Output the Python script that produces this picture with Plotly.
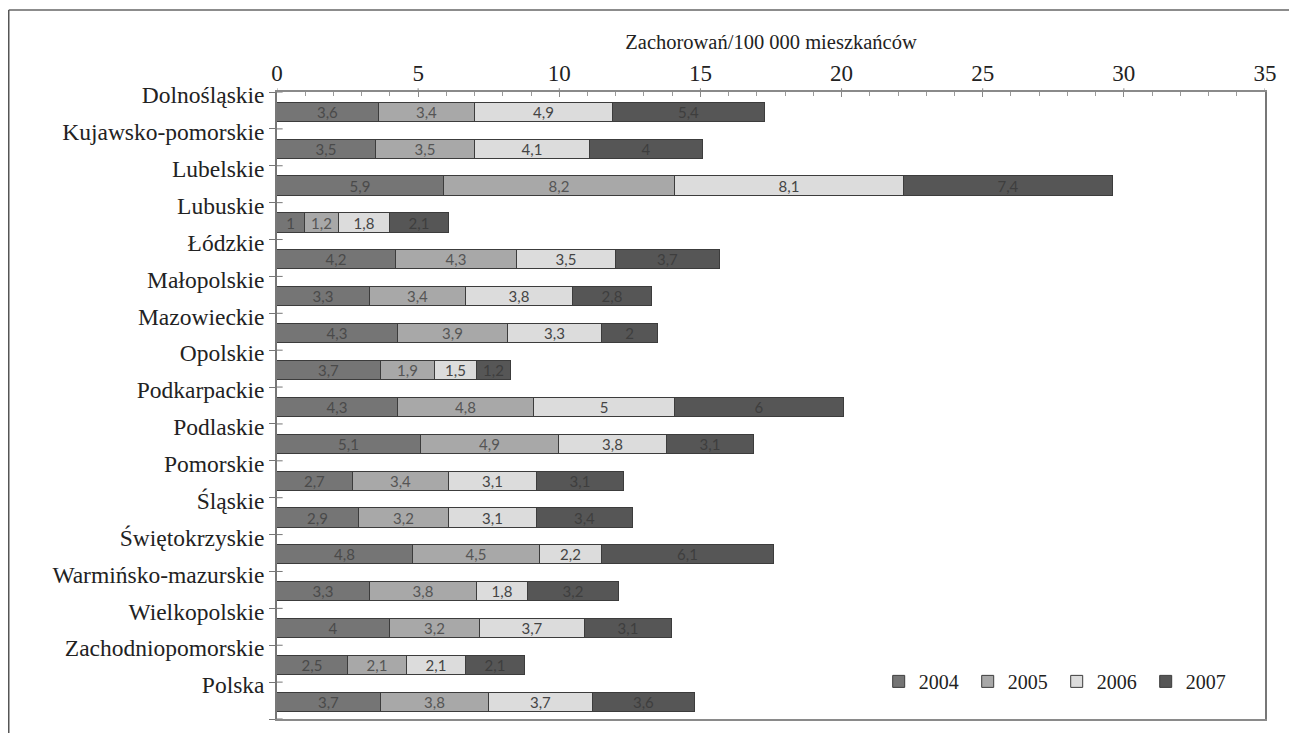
import plotly.graph_objects as go

# Zachorowania na 100 000 mieszkańców według województw, lata 2004-2007
regions = [
    "Dolnośląskie", "Kujawsko-pomorskie", "Lubelskie", "Lubuskie", "Łódzkie",
    "Małopolskie", "Mazowieckie", "Opolskie", "Podkarpackie", "Podlaskie",
    "Pomorskie", "Śląskie", "Świętokrzyskie", "Warmińsko-mazurskie",
    "Wielkopolskie", "Zachodniopomorskie", "Polska",
]
years = ["2004", "2005", "2006", "2007"]
v2004 = [3.6, 3.5, 5.9, 1.0, 4.2, 3.3, 4.3, 3.7, 4.3, 5.1, 2.7, 2.9, 4.8, 3.3, 4.0, 2.5, 3.7]
v2005 = [3.4, 3.5, 8.2, 1.2, 4.3, 3.4, 3.9, 1.9, 4.8, 4.9, 3.4, 3.2, 4.5, 3.8, 3.2, 2.1, 3.8]
v2006 = [4.9, 4.1, 8.1, 1.8, 3.5, 3.8, 3.3, 1.5, 5.0, 3.8, 3.1, 3.1, 2.2, 1.8, 3.7, 2.1, 3.7]
v2007 = [5.4, 4.0, 7.4, 2.1, 3.7, 2.8, 2.0, 1.2, 6.0, 3.1, 3.1, 3.4, 6.1, 3.2, 3.1, 2.1, 3.6]
x_ticks = [0, 5, 10, 15, 20, 25, 30, 35]

series = [v2004, v2005, v2006, v2007]
colors = ["#757575", "#a8a8a8", "#dcdcdc", "#565656"]
text_colors = ["#4a4a4a", "#555555", "#444444", "#3e3e3e"]

# each region occupies one band; the bar sits in the middle of its band
band_pos = [i + 0.55 for i in range(len(regions))]

serif = "Liberation Serif, Times New Roman, serif"

fig = go.Figure()
for name, vals, col, tcol in zip(years, series, colors, text_colors):
    fig.add_trace(go.Bar(
        name=name,
        x=vals,
        y=band_pos,
        orientation="h",
        width=0.52,
        marker=dict(color=col, line=dict(color="#3c3c3c", width=1)),
        texttemplate="%{x:~g}",
        textposition="inside",
        insidetextanchor="middle",
        textangle=0,
        constraintext="none",
        textfont=dict(family="Lato, Open Sans, sans-serif", size=15, color=tcol),
        hoverinfo="skip",
    ))

# inner half of the crossing tick marks on the category axis
for i in range(len(regions) + 1):
    fig.add_shape(type="line", xref="x", yref="y",
                  x0=0, x1=0.2, y0=i, y1=i,
                  line=dict(color="#777777", width=1))

# outer half of the major tick marks on the value axis
for v in x_ticks:
    fig.add_shape(type="line", xref="x", yref="paper",
                  x0=v, x1=v, y0=1.0, y1=1.006,
                  line=dict(color="#888888", width=1))

# outer frame of the figure
fig.add_shape(type="line", xref="paper", yref="paper",
              x0=-0.2715, x1=1.03, y0=1.1308, y1=1.1308,
              line=dict(color="#666666", width=1.5))
fig.add_shape(type="line", xref="paper", yref="paper",
              x0=-0.2715, x1=-0.2715, y0=1.1308, y1=-0.03,
              line=dict(color="#555555", width=1.5))

fig.update_layout(
    width=1289,
    height=733,
    margin=dict(l=277, r=21, t=92, b=14),
    paper_bgcolor="white",
    plot_bgcolor="white",
    barmode="stack",
    bargap=0,
    separators=", ",
    showlegend=True,
    legend=dict(
        orientation="h",
        x=0.609,
        y=0.06,
        xanchor="left",
        yanchor="middle",
        font=dict(family=serif, size=20, color="#222222"),
        entrywidth=44,
        entrywidthmode="pixels",
        traceorder="normal",
        bgcolor="rgba(0,0,0,0)",
        itemclick=False,
    ),
    xaxis=dict(
        side="top",
        range=[0, 35],
        tickvals=x_ticks,
        ticks="inside",
        ticklen=5,
        tickcolor="#888888",
        tickfont=dict(family=serif, size=23, color="#222222"),
        showgrid=False,
        zeroline=False,
        showline=True,
        linecolor="#8a8a8a",
        linewidth=1.5,
        mirror=True,
        minor=dict(ticks="inside", ticklen=4, dtick=1, tick0=0,
                   tickcolor="#999999", showgrid=False),
        title=dict(text="Zachorowań/100 000 mieszkańców",
                   font=dict(family=serif, size=20.5, color="#222222"),
                   standoff=6),
        fixedrange=True,
    ),
    yaxis=dict(
        range=[len(regions), 0],
        tickvals=list(range(len(regions) + 1)),
        ticktext=regions + [""],
        ticks="outside",
        ticklen=6,
        tickcolor="#777777",
        tickfont=dict(family=serif, size=23.5, color="#222222"),
        ticklabelshift=-3,
        showgrid=False,
        zeroline=False,
        showline=True,
        linecolor="#777777",
        linewidth=1.5,
        mirror=True,
        fixedrange=True,
    ),
)

fig.write_html("out.html")
